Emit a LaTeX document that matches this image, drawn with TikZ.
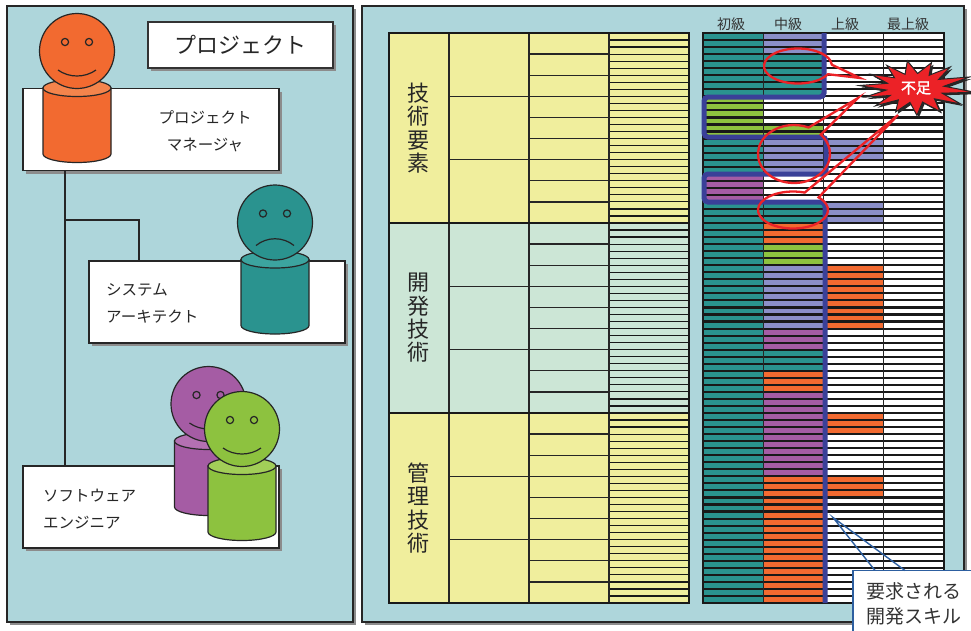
\documentclass[tikz,border=0pt]{standalone}
\usepackage{fontspec}
\setmainfont{Noto Sans CJK JP}
\newfontfamily\heavyjp{Noto Sans CJK JP}[FakeBold=2]
\usetikzlibrary{shadows}

\definecolor{cPanel}{RGB}{174,214,219}
\definecolor{cYellow}{RGB}{240,238,157}
\definecolor{cMint}{RGB}{204,230,214}
\definecolor{cTeal}{RGB}{42,147,143}
\definecolor{cTealLid}{RGB}{60,164,159}
\definecolor{cLav}{RGB}{139,143,200}
\definecolor{cLeaf}{RGB}{141,194,63}
\definecolor{cLeafLid}{RGB}{162,206,88}
\definecolor{cPlum}{RGB}{165,92,164}
\definecolor{cPlumLid}{RGB}{180,112,178}
\definecolor{cOrange}{RGB}{242,106,48}
\definecolor{cOrangeLid}{RGB}{244,132,76}
\definecolor{cRed}{RGB}{236,34,39}
\definecolor{cBlue}{RGB}{58,64,152}
\definecolor{cCallout}{RGB}{45,95,160}

% row pitch of the level grid (81 rows)
\newcommand{\rowh}{7.03704}

\tikzset{
  shade3/.style={drop shadow={shadow xshift=3pt, shadow yshift=-3pt, fill=black!45, opacity=1}},
  panel/.style={draw=black!85, line width=1.6, fill=cPanel, shade3},
  titlebox/.style={draw=black!80, line width=1.3, fill=white, minimum width=185, minimum height=46,
    inner sep=0, outer sep=0, font=\fontsize{22}{24}\selectfont, text=black!85, shade3},
  namebox/.style={draw=black!85, line width=1.4, fill=white, minimum width=256, minimum height=82,
    inner sep=0, outer sep=0, shade3},
  rolename/.style={align=center, inner sep=0, text=black!85, font=\fontsize{15.5}{26.5}\selectfont},
  outline/.style={draw=black!85, line width=1.2},
  wire/.style={draw=black!85, line width=1.4},
  fine/.style={draw=black!90, line width=1.2},
  mid/.style={draw=black!85, line width=1.4},
  heavy/.style={draw=black!90, line width=2.4},
  bar/.style={draw=black!90, line width=2.1},
  cat/.style={align=center, inner sep=0, text=black!85, font=\fontsize{22}{23.3}\selectfont},
  hdr/.style={inner sep=0, text=black!80, font=\fontsize{14}{14}\selectfont},
  reqline/.style={draw=cBlue, line width=5, rounded corners=4},
  bubble/.style={draw=cRed, line width=2.3},
  burst/.style={draw=black!85, line width=1, fill=cRed,
    drop shadow={shadow xshift=2pt, shadow yshift=-2pt, fill=black!85, opacity=1}},
  reqbox/.style={draw=cCallout, line width=1.4, fill=white, minimum width=140, minimum height=80,
    inner sep=0, outer sep=0},
  reqedge/.style={draw=cCallout, line width=1.4},
  reqtext/.style={align=center, inner sep=0, text=black!80, font=\fontsize{19}{24.5}\selectfont},
}

% #1 head centre, #2 body, #3 lid, #4 mouth corner y, #5 mouth control y
\newcommand{\person}[5]{
  \begin{scope}[shift={#1}]
    \draw[outline, fill=#2] (-34,37) -- (-34,103)
      arc[start angle=180, end angle=0, x radius=34, y radius=8.5] -- (34,37) -- cycle;
    \draw[outline, fill=#3] (0,37) ellipse[x radius=34, y radius=8.5];
    \draw[outline, fill=#2] (0,0) circle[radius=37.5];
    \draw[outline, fill=#2] (-12,-9) circle[radius=3.6] (12,-9) circle[radius=3.6];
    \draw[outline] (-19,#4) .. controls (-8,#5) and (8,#5) .. (19,#4);
  \end{scope}
}

\begin{document}
\begin{tikzpicture}[x=1pt, y=-1pt]
  \clip (0,0) rectangle (971,630);
  \fill[white] (0,0) rectangle (971,630);

  % project team
  \draw[panel] (7,6) rectangle (353,622);
  \node[titlebox] (proj) at (240.5,45) {プロジェクト};

  \node[namebox] (pm) at (151,129.5) {};
  \person{(77,51)}{cOrange}{cOrangeLid}{19}{27}
  \node[rolename] (pmtext) at (205,131.5) {プロジェクト\\マネージャ};

  \node[namebox] (sa) at (217,302) {};
  \node[rolename, align=left, anchor=west] (satext) at (106,303.5) {システム\\アーキテクト};
  \person{(275,222.5)}{cTeal}{cTealLid}{23}{14}

  \node[namebox] (se) at (151,507) {};
  \node[rolename, align=left, anchor=west] (setext) at (43,509) {ソフトウェア\\エンジニア};
  \person{(208.5,404)}{cPlum}{cPlumLid}{19}{27}
  \person{(242,429)}{cLeaf}{cLeafLid}{19}{27}

  % reporting lines
  \coordinate (fork) at (65,220);
  \draw[wire] (fork |- pm.south) -- (fork |- se.north);
  \draw[wire] (fork) -| ([xshift=50]sa.north west);

  % skill map
  \draw[panel] (362,6) rectangle (964,622);

  % category table
  \foreach \clr [count=\s from 0] in {cYellow, cMint, cYellow} {
    \fill[\clr] (389,{33+190*\s}) rectangle (689,{223+190*\s});
  }
  \foreach \k in {1,...,80}
    \draw[fine] (609,{33+\k*\rowh}) -- (689,{33+\k*\rowh});
  \foreach \k in {1,...,26}
    \draw[mid] (529,{33+\k*3*\rowh}) -- (609,{33+\k*3*\rowh});
  \foreach \k in {1,...,8}
    \draw[mid] (449,{33+\k*9*\rowh}) -- (529,{33+\k*9*\rowh});
  \foreach \x in {449,529,609}
    \draw[mid] (\x,33) -- (\x,603);
  \foreach \y in {223,413}
    \draw[heavy] (389,\y) -- (689,\y);
  \draw[heavy] (389,33) rectangle (689,603);
  \node[cat] (tech) at (418,128) {技\\術\\要\\素};
  \node[cat] (dev) at (418,318) {開\\発\\技\\術};
  \node[cat] (mgmt) at (418,508) {管\\理\\技\\術};

  % level grid: column / first row / last row / colour
  \fill[white] (703,33) rectangle (944,603);
  \foreach \c/\a/\b/\clr in {
      1/0/8/cTeal, 1/9/14/cLeaf, 1/15/19/cTeal, 1/20/23/cPlum, 1/24/80/cTeal,
      2/0/2/cLav, 2/3/8/cTeal, 2/13/14/cLeaf, 2/15/19/cLav, 2/24/26/cTeal,
      2/27/29/cOrange, 2/30/32/cLeaf, 2/33/41/cLav, 2/42/44/cPlum, 2/45/47/cTeal,
      2/48/50/cOrange, 2/51/62/cPlum, 2/63/80/cOrange,
      3/15/17/cLav, 3/24/26/cLav, 3/33/41/cOrange, 3/54/56/cOrange, 3/63/65/cOrange} {
    \fill[\clr] ({703+60.25*(\c-1)},{33+\a*\rowh}) rectangle ({703+60.25*\c},{33+(\b+1)*\rowh});
  }
  \foreach \k in {1,...,80}
    \draw[bar] (703,{33+\k*\rowh}) -- (944,{33+\k*\rowh});
  \foreach \x in {763.25,823.5,883.75}
    \draw[mid] (\x,33) -- (\x,603);
  \foreach \y in {223,413}
    \draw[heavy] (703,\y) -- (944,\y);
  \draw[heavy] (703,33) rectangle (944,603);

  % column labels
  \foreach \x/\t [count=\i] in {731/初級, 788/中級, 845/上級, 908/最上級}
    \node[hdr] (lvl\i) at (\x,24) {\t};

  % required level
  \draw[reqline] (824,33) -- (824,97) -- (704,97) -- (704,137) -- (826,137) -- (826,174)
    -- (704,174) -- (704,202) -- (825,202) -- (825,603);

  % shortfall bubbles
  \foreach \cx/\cy/\rx/\ry/\a/\b/\tx/\ty in {
      798/66/34/17.5/28/356/860/78,
      794/154/36/29/-42/294/858/98,
      793/210/35/18.5/-43/289.5/898/115} {
    \draw[bubble] (\cx,\cy) ++(\a:{\rx} and {\ry})
      arc[start angle=\a, end angle=\b, x radius=\rx, y radius=\ry] -- (\tx,\ty) -- cycle;
  }

  % starburst
  \begin{scope}[shift={(915,88)}]
    \draw[burst] (-175:56 and 28)
      \foreach \a/\r in {-161/.52, -148/.92, -135/.52, -122/.95, -110/.52, -98/.98, -85/.52,
          -72/.95, -61/.52, -50/.98, -36/.52, -22/1.05, -7/.52, 8/1.08, 21/.52, 35/1,
          48/.52, 62/.95, 75/.52, 88/.98, 100/.52, 112/.92, 125/.52, 138/.95, 149/.52,
          160/.95, 172/.52} { -- (\a:{56*\r} and {28*\r}) } -- cycle;
  \end{scope}
  \node[text=white, inner sep=0, font=\heavyjp\fontsize{15}{15}\selectfont] (lack) at (916,88) {不足};

  % callout
  \coordinate (reqtip) at (833,517.5);
  \node[reqbox, anchor=north west] (req) at (853,570.5) {};
  \draw[reqedge] ([xshift=22]req.north west) -- (reqtip) -- ([xshift=52]req.north west);
  \node[reqtext] (reqlbl) at (914,604) {要求される\\開発スキル};
\end{tikzpicture}
\end{document}
